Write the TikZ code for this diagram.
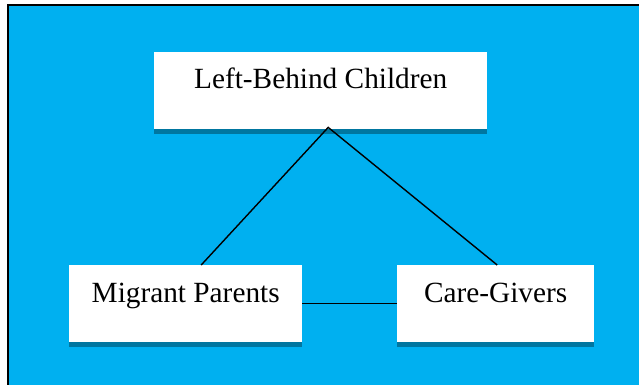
\documentclass[tikz,border=0pt]{standalone}
\usepackage{fontspec}
\setmainfont{Liberation Serif}
\definecolor{panelblue}{RGB}{0,176,240}
\definecolor{shadowteal}{RGB}{0,118,160}
\tikzset{
  box/.style={fill=white, inner sep=0pt, anchor=north west,
    font=\fontsize{29.3}{35}\selectfont},
  topbox/.style={box, text height=36pt, text depth=41pt},
  lowbox/.style={box, text height=37pt, text depth=40pt},
  link/.style={draw=black, line width=1.4pt},
}
\begin{document}
\begin{tikzpicture}[x=1pt, y=-1pt]
  \useasboundingbox (0,0) rectangle (639,385);
  \fill[white] (0,0) rectangle (639,385);
  % blue panel with its black top and left edge
  \fill[panelblue] (8,5) rectangle (639,385);
  \draw[line width=2pt, black] (8,385) -- (8,5) -- (639,5);

  % boxes
  \node[topbox, minimum width=333pt] (lbc) at (154,52) {Left-Behind Children};
  \node[lowbox, minimum width=233pt] (mig) at (69,265) {Migrant Parents};
  \node[lowbox, minimum width=197pt] (care) at (397,265) {Care-Givers};

  % dark strip under each box
  \foreach \b in {lbc, mig, care}
    \fill[shadowteal] (\b.south west) rectangle ([yshift=-5pt]\b.south east);

  % connectors
  \coordinate (apex) at ([xshift=7.5pt, yshift=2pt]lbc.south);
  \coordinate (migtop) at ([xshift=15.5pt]mig.north);
  \coordinate (caretop) at ([xshift=1.5pt]care.north);
  \draw[link] (migtop) -- (apex) -- (caretop);
  \draw[link] (mig.east) -- (care.west);
\end{tikzpicture}
\end{document}
